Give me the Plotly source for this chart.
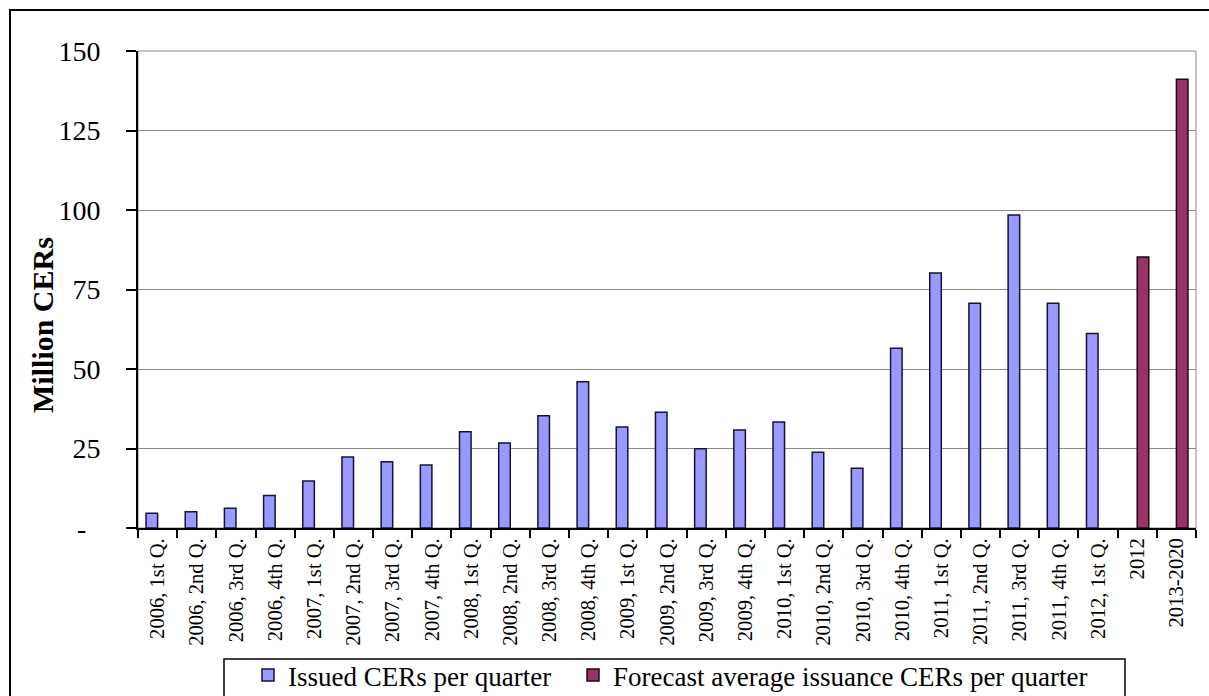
import plotly.graph_objects as go

# Quarterly CER issuance (million CERs) and forecast averages
quarters = [
    "2006, 1st Q.", "2006, 2nd Q.", "2006, 3rd Q.", "2006, 4th Q.",
    "2007, 1st Q.", "2007, 2nd Q.", "2007, 3rd Q.", "2007, 4th Q.",
    "2008, 1st Q.", "2008, 2nd Q.", "2008, 3rd Q.", "2008, 4th Q.",
    "2009, 1st Q.", "2009, 2nd Q.", "2009, 3rd Q.", "2009, 4th Q.",
    "2010, 1st Q.", "2010, 2nd Q.", "2010, 3rd Q.", "2010, 4th Q.",
    "2011, 1st Q.", "2011, 2nd Q.", "2011, 3rd Q.", "2011, 4th Q.",
    "2012, 1st Q.",
]
forecast_periods = ["2012", "2013-2020"]

issued = [
    4.6, 5.1, 6.2, 10.2,
    14.8, 22.3, 20.8, 19.8,
    30.3, 26.7, 35.3, 46.0,
    31.8, 36.4, 24.9, 30.8,
    33.3, 23.8, 18.8, 56.5,
    80.2, 70.7, 98.4, 70.7,
    61.2,
]
forecast = [85.2, 141.1]

y_tick_vals = [0, 25, 50, 75, 100, 125, 150]
y_tick_text = ["-\u00a0\u00a0", "25", "50", "75", "100", "125", "150"]

categories = quarters + forecast_periods
issued_series = issued + [None] * len(forecast_periods)
forecast_series = [None] * len(quarters) + forecast

FONT = "Liberation Serif, Times New Roman, serif"

W, H = 1209, 696
ml, mr, mt, mb = 138, 13, 51, 168
pw, ph = W - ml - mr, H - mt - mb


def px_to_paper_x(px):
    return (px - ml) / pw


def px_to_paper_y(py):
    return (H - mb - py) / ph


fig = go.Figure()
fig.add_trace(go.Bar(
    x=categories, y=issued_series, name="Issued CERs per quarter",
    marker=dict(color="#9999FF", line=dict(color="#14143a", width=1.5)),
    legend="legend",
))
fig.add_trace(go.Bar(
    x=categories, y=forecast_series,
    name="Forecast average issuance CERs per quarter",
    marker=dict(color="#993366", line=dict(color="#1a0a14", width=1.5)),
    legend="legend2",
))

legend_common = dict(
    orientation="h", xanchor="left", yanchor="top",
    borderwidth=0, bgcolor="rgba(0,0,0,0)",
    font=dict(family=FONT, size=27, color="black"),
)

fig.update_layout(
    width=W, height=H,
    margin=dict(l=ml, r=mr, t=mt, b=mb, autoexpand=False),
    paper_bgcolor="white", plot_bgcolor="white",
    barmode="group", bargap=0.41, bargroupgap=0,
    font=dict(family=FONT, color="black"),
    showlegend=True,
    legend=dict(x=px_to_paper_x(248), y=px_to_paper_y(651), **legend_common),
    legend2=dict(x=px_to_paper_x(573), y=px_to_paper_y(651), **legend_common),
    shapes=[
        # outer chart frame
        dict(type="rect", xref="paper", yref="paper",
             x0=px_to_paper_x(10), x1=px_to_paper_x(1230),
             y0=px_to_paper_y(720), y1=px_to_paper_y(10),
             line=dict(color="black", width=2), layer="below"),
        # plot-area border
        dict(type="rect", xref="paper", yref="paper",
             x0=0, x1=1, y0=0, y1=1,
             line=dict(color="#8a8a8a", width=1), layer="below"),
        # legend frame
        dict(type="rect", xref="paper", yref="paper",
             x0=px_to_paper_x(224), x1=px_to_paper_x(1125),
             y0=px_to_paper_y(705), y1=px_to_paper_y(659),
             line=dict(color="black", width=1.5), fillcolor="white",
             layer="below"),
    ],
    annotations=[
        dict(text="<b>Million CERs</b>", xref="paper", yref="paper",
             x=px_to_paper_x(42), y=px_to_paper_y(325),
             xanchor="center", yanchor="middle", textangle=-90,
             showarrow=False, font=dict(family=FONT, size=30, color="black")),
    ],
)

fig.update_yaxes(
    range=[0, 150], tickvals=y_tick_vals, ticktext=y_tick_text,
    showgrid=True, gridcolor="#8a8a8a", gridwidth=1,
    showline=True, linecolor="black", linewidth=2,
    ticks="outside", ticklen=10, tickcolor="black", tickwidth=1.5,
    ticklabelstandoff=20,
    tickfont=dict(family=FONT, size=28, color="black"),
    zeroline=False, fixedrange=True,
)
fig.update_xaxes(
    type="category", tickangle=-90, tickson="boundaries",
    showgrid=False, showline=True, linecolor="black", linewidth=2,
    ticks="outside", ticklen=8, tickcolor="black", tickwidth=1.5,
    tickfont=dict(family=FONT, size=20.6, color="black"),
    fixedrange=True,
)

fig.write_html("out.html")
